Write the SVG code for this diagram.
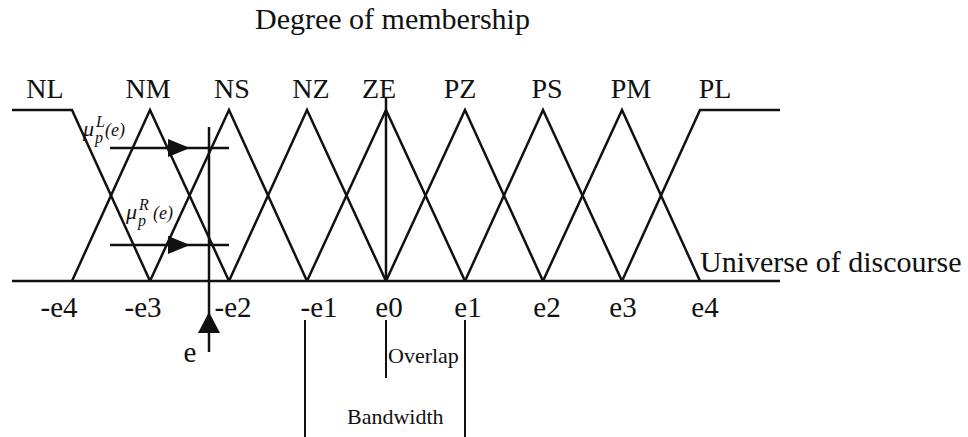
<svg xmlns="http://www.w3.org/2000/svg" width="968" height="437" viewBox="0 0 968 437">
<style>
.ln{fill:none;stroke:#111;stroke-width:2.5;stroke-linejoin:miter}
.thin{fill:none;stroke:#111;stroke-width:2}
.lbl{font-family:"Liberation Serif",serif;font-size:28px;fill:#111;text-anchor:middle}
.ax{font-family:"Liberation Serif",serif;font-size:29px;fill:#111;text-anchor:middle}
.big{font-family:"Liberation Serif",serif;font-size:30px;fill:#111}
.sm{font-family:"Liberation Serif",serif;font-size:22px;fill:#111}
.mu{font-family:"Liberation Serif",serif;font-style:italic;fill:#111}
.ah{fill:#111;stroke:none}
</style>
<rect width="968" height="437" fill="#fff"/>
<text class="big" x="255" y="29">Degree of membership</text>
<g id="axis">
<line class="ln" x1="12" y1="281" x2="780" y2="281"/>
<text class="big" x="700" y="272">Universe of discourse</text>
<text class="ax" x="59" y="317">-e4</text>
<text class="ax" x="143" y="317">-e3</text>
<text class="ax" x="233" y="317">-e2</text>
<text class="ax" x="319" y="317">-e1</text>
<text class="ax" x="389" y="317">e0</text>
<text class="ax" x="468" y="317">e1</text>
<text class="ax" x="547" y="317">e2</text>
<text class="ax" x="623" y="317">e3</text>
<text class="ax" x="705" y="317">e4</text>
</g>
<g id="NL"><polyline class="ln" points="12,110 72,110 150,281"/><text class="lbl" x="45" y="98">NL</text></g>
<g id="NM"><polyline class="ln" points="72,281 150,110 229,281"/><text class="lbl" x="148" y="98">NM</text></g>
<g id="NS"><polyline class="ln" points="150,281 229,110 307,281"/><text class="lbl" x="232" y="98">NS</text></g>
<g id="NZ"><polyline class="ln" points="229,281 307,110 386,281"/><text class="lbl" x="311" y="98">NZ</text></g>
<g id="ZE"><polyline class="ln" points="307,281 386,110 465,281"/><text class="lbl" x="379" y="98">ZE</text></g>
<g id="PZ"><polyline class="ln" points="386,281 465,110 543,281"/><text class="lbl" x="460" y="98">PZ</text></g>
<g id="PS"><polyline class="ln" points="465,281 543,110 622,281"/><text class="lbl" x="547" y="98">PS</text></g>
<g id="PM"><polyline class="ln" points="543,281 622,110 700,281"/><text class="lbl" x="631" y="98">PM</text></g>
<g id="PL"><polyline class="ln" points="622,281 700,110 780,110"/><text class="lbl" x="715" y="98">PL</text></g>
<g id="muL">
<text class="mu" x="83" y="136" font-size="22">μ</text>
<text class="mu" x="96" y="127" font-size="16">L</text>
<text class="mu" x="95" y="143" font-size="16">p</text>
<text class="mu" x="105" y="136" font-size="18">(e)</text>
</g>
<g id="muR">
<text class="mu" x="126" y="219" font-size="22">μ</text>
<text class="mu" x="139" y="210" font-size="16">R</text>
<text class="mu" x="138" y="226" font-size="16">p</text>
<text class="mu" x="153" y="219" font-size="18">(e)</text>
</g>
<g id="connectors">
<line class="ln" x1="386" y1="98" x2="386" y2="281"/>
<line class="ln" x1="110" y1="148" x2="229" y2="148"/>
<polygon class="ah" points="168,139 190,148 168,157"/>
<line class="ln" x1="110" y1="245" x2="229" y2="245"/>
<polygon class="ah" points="168,236 190,245 168,254"/>
<line class="ln" x1="209" y1="127" x2="209" y2="352"/>
<polygon class="ah" points="209,312 198,333 220,333"/>
<line class="thin" x1="386" y1="320" x2="386" y2="378"/>
<line class="thin" x1="305" y1="320" x2="305" y2="437"/>
<line class="thin" x1="465" y1="320" x2="465" y2="437"/>
</g>
<g id="labels">
<text class="ax" x="190" y="362">e</text>
<text class="sm" x="388" y="363">Overlap</text>
<text class="sm" x="347" y="424">Bandwidth</text>
</g>
</svg>
